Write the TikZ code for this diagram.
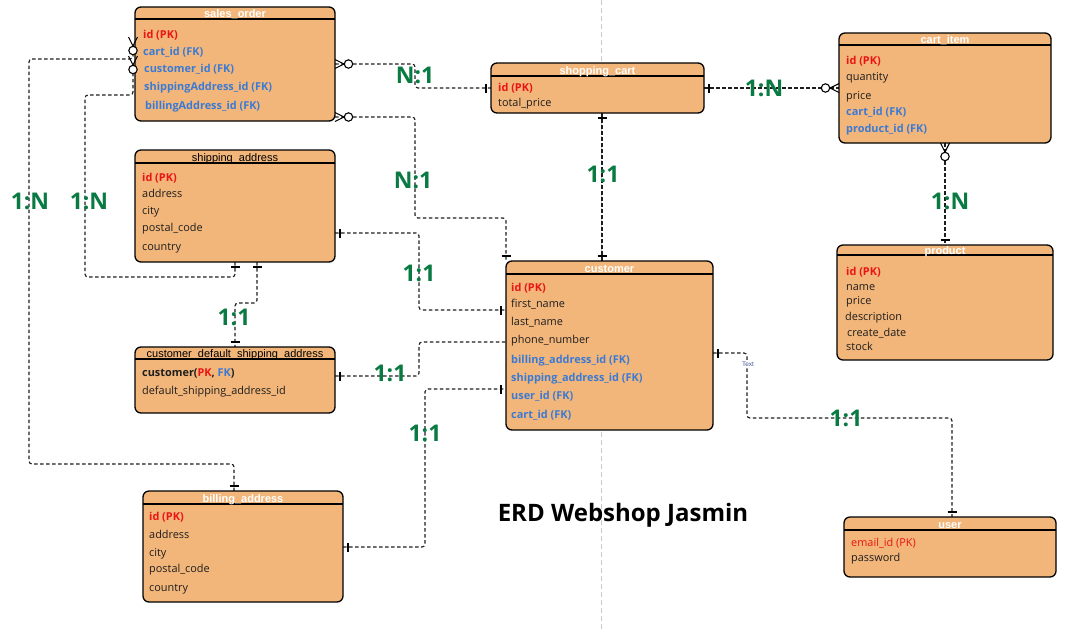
\documentclass[tikz,border=0pt]{standalone}
\usepackage{fontspec}
\setmainfont{Open Sans}
\newfontfamily\hdrfamily{Liberation Sans}
\usetikzlibrary{backgrounds}
\definecolor{boxfill}{RGB}{242,182,122}
\definecolor{pkred}{RGB}{235,20,20}
\definecolor{fkblue}{RGB}{58,122,212}
\definecolor{rowblack}{RGB}{30,30,30}
\definecolor{lblgreen}{RGB}{8,122,66}
\definecolor{connc}{RGB}{30,30,30}
\definecolor{guide}{RGB}{200,200,200}
\definecolor{tinyblue}{RGB}{70,90,150}
\newcommand{\rowfont}{\fontsize{10.9}{12}\selectfont}
\tikzset{
 tbl/.style={draw=black, line width=1.3pt, fill=boxfill, rounded corners=6pt, inner sep=0pt, outer sep=0pt, anchor=north west},
 hdrw/.style={inner sep=0pt, font=\hdrfamily\bfseries\fontsize{11}{11}\selectfont, text=white, text height=8pt, text depth=0pt},
 hdrb/.style={inner sep=0pt, font=\hdrfamily\fontsize{11}{11}\selectfont, text=black, text height=8pt, text depth=0pt},
 rowt/.style={anchor=west, inner sep=0pt, font=\rowfont, text=rowblack, text height=7.5pt, text depth=2.5pt, yshift=-1.5pt},
 pkt/.style={rowt, font=\rowfont\bfseries, text=pkred},
 fkt/.style={rowt, font=\rowfont\bfseries, text=fkblue},
 conn/.style={draw=connc, line width=1.15pt, dash pattern=on 3.5pt off 2.5pt, rounded corners=3pt},
 lbl/.style={inner sep=0pt, font=\bfseries\fontsize{23}{23}\selectfont, text=lblgreen},
 hrule/.style={draw=black, line width=1.2pt},
 pics/onebar/.style={code={\draw[solid, line width=1.1pt, black] (5,-4.5) -- (5,4.5);}},
 pics/crowo/.style={code={\draw[solid, line width=1.1pt, black] (0,-4.5) -- (9,0) -- (0,4.5); \draw[solid, line width=1.1pt, black, fill=white] (13.5,0) circle[radius=4.2pt];}},
}
\begin{document}
\begin{tikzpicture}[x=1pt,y=-1pt]
\useasboundingbox (0,0) rectangle (1092,630);

% boxes
\node[tbl, minimum width=200pt, minimum height=114pt] (so) at (135,7) {};
\node[tbl, minimum width=213pt, minimum height=50pt] (sc) at (491,63) {};
\node[tbl, minimum width=212pt, minimum height=110pt] (ci) at (839,33) {};
\node[tbl, minimum width=200pt, minimum height=112pt] (sa) at (135,150) {};
\node[tbl, minimum width=200pt, minimum height=66pt] (cd) at (135,347) {};
\node[tbl, minimum width=207pt, minimum height=169pt] (cu) at (506,261) {};
\node[tbl, minimum width=216pt, minimum height=115pt] (pr) at (837,245) {};
\node[tbl, minimum width=200pt, minimum height=111pt] (ba) at (143,491) {};
\node[tbl, minimum width=212pt, minimum height=60pt] (us) at (844,517) {};

\begin{scope}[on background layer]
\draw[guide, line width=1pt, dash pattern=on 5pt off 3pt] (601,0) -- (601,630);
\draw[conn] (so.east |- 0,64) -- (415,64) -- (415,88) -- (sc.west |- 0,88);
\draw[conn] (so.east |- 0,117) -- (415,117) -- (415,218) -- (506,218) -- (cu.north west);
\draw[conn] (sc.south -| 602,0) -- (cu.north -| 602,0);
\draw[conn] (sc.east |- 0,88) -- (ci.west |- 0,88);
\draw[conn] (ci.south -| 945,0) -- (pr.north -| 945,0);
\draw[conn] (sa.east |- 0,233) -- (419,233) -- (419,310) -- (cu.west |- 0,310);
\draw[conn] (cd.east |- 0,376) -- (419,376) -- (419,342) -- (cu.west |- 0,342);
\draw[conn] (ba.east |- 0,547) -- (425,547) -- (425,389) -- (cu.west |- 0,389);
\draw[conn] (cu.east |- 0,353) -- (747,353) -- (747,418) -- (952,418) -- (us.north -| 952,0);
\draw[conn] (ba.north -| 234,0) -- (234,464) -- (29,464) -- (29,59) -- (133,59) -- (133,50);
\draw[conn] (sa.south -| 235,0) -- (235,277) -- (85,277) -- (85,95) -- (133,95) -- (133,70);
\draw[conn] (sa.south -| 257,0) -- (257,303) -- (235,303) -- (cd.north -| 235,0);
\end{scope}

\foreach \n/\h in {so/12, sc/13, ci/12, sa/13, cd/12, cu/13, pr/10, ba/13, us/13}
  \draw[hrule] ([yshift=-\h pt]\n.north west) -- ([yshift=-\h pt]\n.north east);

% headers
\node[hdrw] (soh) at ([yshift=-6.5pt]so.north) {sales\_order};
\node[hdrw] (sch) at ([yshift=-7pt]sc.north) {shopping\_cart};
\node[hdrw] (cih) at ([yshift=-6.5pt]ci.north) {cart\_item};
\node[hdrb] (sah) at ([yshift=-7pt]sa.north) {shipping\_address};
\node[hdrb] (cdh) at ([yshift=-6.5pt]cd.north) {customer\_default\_shipping\_address};
\node[hdrw] (cuh) at ([yshift=-7pt]cu.north) {customer};
\node[hdrw] (prh) at ([yshift=-5.5pt]pr.north) {product};
\node[hdrw] (bah) at ([yshift=-7pt]ba.north) {billing\_address};
\node[hdrw] (ush) at ([yshift=-7pt]us.north) {user};

% rows sales_order
\node[pkt] (so1) at (143,34) {id (PK)};
\node[fkt] (so2) at (143,51) {cart\_id (FK)};
\node[fkt] (so3) at (144,68) {customer\_id (FK)};
\node[fkt] (so4) at (144,86) {shippingAddress\_id (FK)};
\node[fkt] (so5) at (145,105) {billingAddress\_id (FK)};
% shopping_cart
\node[pkt] (sc1) at (498,87) {id (PK)};
\node[rowt] (sc2) at (498,102) {total\_price};
% cart_item
\node[pkt] (ci1) at (846,60) {id (PK)};
\node[rowt] (ci2) at (846,76) {quantity};
\node[rowt] (ci3) at (846,95) {price};
\node[fkt] (ci4) at (846,111) {cart\_id (FK)};
\node[fkt] (ci5) at (846,128) {product\_id (FK)};
% shipping_address
\node[pkt] (sa1) at (142,177) {id (PK)};
\node[rowt] (sa2) at (142,193) {address};
\node[rowt] (sa3) at (142,210) {city};
\node[rowt] (sa4) at (142,227) {postal\_code};
\node[rowt] (sa5) at (142,246) {country};
% customer_default_shipping_address
\node[rowt, font=\rowfont\bfseries] (cd1) at (142,372) {customer(\textcolor{pkred}{PK}, \textcolor{fkblue}{FK})};
\node[rowt] (cd2) at (142,390) {default\_shipping\_address\_id};
% customer
\node[pkt] (cu1) at (511,287) {id (PK)};
\node[rowt] (cu2) at (511,303) {first\_name};
\node[rowt] (cu3) at (511,321) {last\_name};
\node[rowt] (cu4) at (511,339) {phone\_number};
\node[fkt] (cu5) at (511,359) {billing\_address\_id (FK)};
\node[fkt] (cu6) at (511,377) {shipping\_address\_id (FK)};
\node[fkt] (cu7) at (511,395) {user\_id (FK)};
\node[fkt] (cu8) at (511,414) {cart\_id (FK)};
% product
\node[pkt] (pr1) at (846,271) {id (PK)};
\node[rowt] (pr2) at (846,286) {name};
\node[rowt] (pr3) at (846,300) {price};
\node[rowt] (pr4) at (845,316) {description};
\node[rowt] (pr5) at (847,332) {create\_date};
\node[rowt] (pr6) at (846,346) {stock};
% billing_address
\node[pkt] (ba1) at (149,516) {id (PK)};
\node[rowt] (ba2) at (149,534) {address};
\node[rowt] (ba3) at (149,552) {city};
\node[rowt] (ba4) at (149,568) {postal\_code};
\node[rowt] (ba5) at (149,587) {country};
% user
\node[rowt, text=pkred] (us1) at (851,542) {email\_id (PK)};
\node[rowt] (us2) at (851,557) {password};

% markers
\pic at (so.east |- 0,64) {crowo};
\pic at (so.east |- 0,117) {crowo};
\pic[rotate=180] at (sc.west |- 0,88) {onebar};
\pic[rotate=90] at (cu.north west) {onebar};
\pic[rotate=-90] at (sc.south -| 602,0) {onebar};
\pic[rotate=90] at (cu.north -| 602,0) {onebar};
\pic at (sc.east |- 0,88) {onebar};
\pic[rotate=180] at (ci.west |- 0,88) {crowo};
\pic[rotate=-90] at (ci.south -| 945,0) {crowo};
\pic[rotate=90] at (pr.north -| 945,0) {onebar};
\pic at (sa.east |- 0,233) {onebar};
\pic[rotate=180] at (cu.west |- 0,310) {onebar};
\pic at (cd.east |- 0,376) {onebar};
\pic at (ba.east |- 0,547) {onebar};
\pic[rotate=180] at (cu.west |- 0,389) {onebar};
\pic at (cu.east |- 0,353) {onebar};
\pic[rotate=90] at (us.north -| 952,0) {onebar};
\pic[rotate=90] at (ba.north -| 234,0) {onebar};
\pic[rotate=-90] at (sa.south -| 235,0) {onebar};
\pic[rotate=-90] at (sa.south -| 257,0) {onebar};
\pic[rotate=90] at (cd.north -| 235,0) {onebar};
\pic[rotate=-90] at (133,37) {crowo};
\pic[rotate=-90] at (133,56) {crowo};

% labels
\node[lbl] (l1) at (415,75) {N:1};
\node[lbl] (l2) at (413,180) {N:1};
\node[lbl] (l3) at (603,174) {1:1};
\node[lbl] (l4) at (764,88) {1:N};
\node[lbl] (l5) at (950,201) {1:N};
\node[lbl] (l6) at (30,201) {1:N};
\node[lbl] (l7) at (89,201) {1:N};
\node[lbl] (l8) at (234,317) {1:1};
\node[lbl] (l9) at (419,273) {1:1};
\node[lbl] (l10) at (390,373) {1:1};
\node[lbl] (l11) at (425,433) {1:1};
\node[lbl] (l12) at (846,418) {1:1};
\node[inner sep=1pt, fill=white, font=\hdrfamily\fontsize{6.5}{7}\selectfont, text=tinyblue] (txt) at (748,364) {Text};

% title
\node[inner sep=0pt, font=\bfseries\fontsize{24}{24}\selectfont, text=black] (title) at (623,515) {ERD Webshop Jasmin};
\end{tikzpicture}
\end{document}
